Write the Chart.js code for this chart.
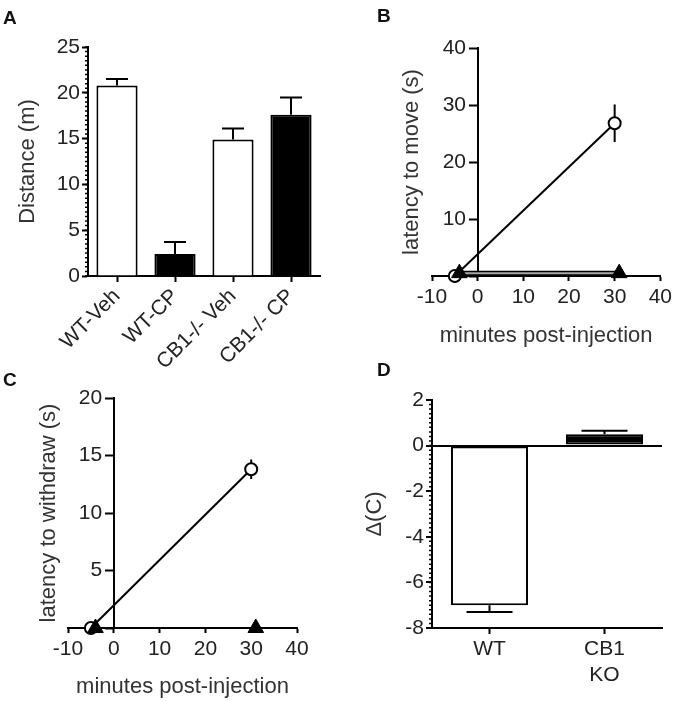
<!DOCTYPE html>
<html><head><meta charset="utf-8">
<script src="https://cdn.jsdelivr.net/npm/chart.js@4.4.1/dist/chart.umd.min.js"></script>
<style>
html,body{margin:0;padding:0;background:#fff;}
#wrap{position:relative;width:676px;height:701px;overflow:hidden;font-family:'Liberation Sans',Arial,sans-serif;}
canvas{position:absolute;}
.lbl{position:absolute;font-weight:bold;font-size:19px;line-height:19px;color:#111;}
</style></head><body>
<div id="wrap">
<canvas id="cA" width="338" height="380" style="left:0;top:0"></canvas>
<canvas id="cB" width="338" height="350" style="left:338px;top:0"></canvas>
<canvas id="cC" width="338" height="361" style="left:0;top:340px"></canvas>
<canvas id="cD" width="338" height="361" style="left:338px;top:340px"></canvas>
<div class="lbl" style="left:3px;top:8px">A</div>
<div class="lbl" style="left:377px;top:6px">B</div>
<div class="lbl" style="left:3px;top:370px">C</div>
<div class="lbl" style="left:377px;top:360px">D</div>
</div>
<script>
// ---------- data ----------
const catsA = ['WT-Veh', 'WT-CP', 'CB1-/- Veh', 'CB1-/- CP'];
const distA = [20.8, 2.4, 14.9, 17.6];
const distErrA = [0.7, 1.3, 1.2, 1.9];

const timeWT = [-5, 30];
const timeKO = [-4, 31];
const moveWT = [0, 26.8];
const moveErrWT = [0, 3.3];
const moveKO = [0.5, 0.5];
const withdrawWT = [0, 13.8];
const withdrawErrWT = [0, 0.85];
const withdrawKO = [0, 0];

const catsD = ['WT', ['CB1', 'KO']];
const deltaD = [-7.0, 0.5];
const deltaErrD = [0.3, 0.15];

const ticksA = {min: 0, max: 25, step: 5};
const ticksB = {min: 0, max: 40, step: 10};
const ticksC = {min: 0, max: 20, step: 5};
const ticksD = {min: -8, max: 2, step: 2};
const ticksTime = {min: -10, max: 40, step: 10};

// ---------- helpers ----------
const FAM = "'Liberation Sans', Arial, sans-serif";
Chart.defaults.font.family = FAM;
const tickFont = {family: FAM, size: 21};
const titleFont = {family: FAM, size: 22};
const TICK = '#222';
const TITLE = '#333';
const pts = (xs, ys) => xs.map((x, i) => ({x: x, y: ys[i]}));

function drawErr(chart, opts) {
  const ctx = chart.ctx, ys = chart.scales.y;
  chart.data.datasets.forEach((ds, di) => {
    if (!ds.errors) return;
    const meta = chart.getDatasetMeta(di);
    meta.data.forEach((el, i) => {
      const e = ds.errors[i];
      if (!e) return;
      const d = ds.data[i];
      const v = (typeof d === 'object') ? d.y : d;
      const x = el.x;
      ctx.save();
      ctx.strokeStyle = '#000';
      ctx.lineWidth = 2;
      ctx.beginPath();
      if (opts.oneSided) {
        const dir = v >= 0 ? 1 : -1;
        const y0 = ys.getPixelForValue(v), y1 = ys.getPixelForValue(v + dir * e);
        ctx.moveTo(x, y0); ctx.lineTo(x, y1);
        ctx.moveTo(x - opts.cap / 2, y1); ctx.lineTo(x + opts.cap / 2, y1);
      } else {
        ctx.moveTo(x, ys.getPixelForValue(v - e));
        ctx.lineTo(x, ys.getPixelForValue(v + e));
      }
      ctx.stroke();
      ctx.restore();
    });
  });
}
const errorBars = {
  id: 'errorBars',
  beforeDatasetsDraw(chart, args, opts) { if (opts.before) drawErr(chart, opts); },
  afterDatasetsDraw(chart, args, opts) { if (!opts.before) drawErr(chart, opts); }
};
const minorTicks = {
  id: 'minorTicks',
  afterDraw(chart, args, opts) {
    const s = chart.scales.y, ctx = chart.ctx;
    const x = chart.chartArea.left;
    const n = Math.round((s.max - s.min) / opts.step);
    ctx.save();
    ctx.strokeStyle = '#000';
    ctx.lineWidth = 1.5;
    ctx.beginPath();
    for (let k = 0; k <= n; k++) {
      const p = s.getPixelForValue(s.min + k * opts.step);
      ctx.moveTo(x - opts.len, p); ctx.lineTo(x, p);
    }
    ctx.stroke();
    ctx.restore();
  }
};
const base = {responsive: false, animation: false, events: []};
const noLegend = {legend: {display: false}, tooltip: {enabled: false}};
const tickGrid = (len) => ({display: true, drawOnChartArea: false, offset: false, tickLength: len, tickWidth: 2, tickColor: '#000'});
const border = {display: true, color: '#000', width: 2};

// ---------- A ----------
new Chart(document.getElementById('cA'), {
  type: 'bar',
  data: {labels: catsA, datasets: [{
    data: distA, errors: distErrA,
    backgroundColor: ['#ffffff', '#000000', '#ffffff', '#000000'],
    borderColor: '#000', borderWidth: 2, barPercentage: 0.71, categoryPercentage: 1
  }]},
  options: Object.assign({}, base, {
    layout: {padding: {left: 0, right: 18, top: 47, bottom: 0}},
    plugins: Object.assign({}, noLegend, {errorBars: {cap: 22, oneSided: true}, minorTicks: {step: 0.5, len: 3}}),
    scales: {
      x: {offset: true, grid: tickGrid(6), border: border,
          ticks: {autoSkip: false, minRotation: 45, maxRotation: 45, font: tickFont, color: TICK, padding: 2},
          afterFit: s => { s.height = 104; }},
      y: {min: ticksA.min, max: ticksA.max, grid: tickGrid(6), border: border,
          ticks: {stepSize: ticksA.step, font: tickFont, color: TICK, padding: 2},
          title: {display: true, text: 'Distance (m)', font: titleFont, color: TITLE, padding: {top: 15, bottom: 0}},
          afterFit: s => { s.width = 88; }}
    }
  }),
  plugins: [errorBars, minorTicks]
});

// ---------- B / C (time courses) ----------
function timeChart(id, yWT, errWT, yKO, yt, yTitle, pad, xH, ytW, titlePadTop, koBand) {
  const ds = [];
  if (koBand) {
    ds.push({data: pts(timeKO, yKO), showLine: true, borderColor: '#000', borderWidth: 5, pointRadius: 0, order: 4, clip: false});
    ds.push({data: pts(timeKO, yKO), showLine: true, borderColor: '#a8a8a8', borderWidth: 2, pointRadius: 0, order: 3, clip: false});
  } else {
    ds.push({data: pts(timeKO, yKO), showLine: true, borderColor: '#000', borderWidth: 2, pointRadius: 0, order: 4, clip: false});
  }
  ds.push({data: pts(timeWT, yWT), errors: errWT, showLine: true, borderColor: '#000', borderWidth: 2,
           pointStyle: 'circle', pointRadius: 6, pointBackgroundColor: '#fff', pointBorderColor: '#000', pointBorderWidth: 2, order: 2, clip: false});
  ds.push({data: pts(timeKO, yKO), showLine: false, pointStyle: 'triangle', pointRadius: 9,
           pointBackgroundColor: '#000', pointBorderColor: '#000', pointBorderWidth: 1, order: 1, clip: false});
  new Chart(document.getElementById(id), {
    type: 'scatter',
    data: {datasets: ds},
    options: Object.assign({}, base, {
      layout: {padding: pad},
      plugins: Object.assign({}, noLegend, {errorBars: {before: true}}),
      scales: {
        x: {type: 'linear', position: 'bottom', min: ticksTime.min, max: ticksTime.max, grid: tickGrid(5), border: border,
            ticks: {stepSize: ticksTime.step, font: tickFont, color: TICK, padding: 4},
            title: {display: true, text: 'minutes post-injection', font: titleFont, color: TITLE, padding: {top: 0, bottom: 1}},
            afterFit: s => { s.height = xH; }},
        y: {type: 'linear', position: {x: 0}, min: yt.min, max: yt.max, grid: tickGrid(8), border: border,
            ticks: {stepSize: yt.step, font: tickFont, color: TICK, callback: v => (v === 0 ? '' : v + '  ')},
            afterFit: s => { s.width = 0; }},
        yt: {type: 'linear', position: 'left', min: yt.min, max: yt.max,
             ticks: {display: false}, grid: {display: false}, border: {display: false},
             title: {display: true, text: yTitle, font: titleFont, color: TITLE, padding: {top: titlePadTop, bottom: 0}},
             afterFit: s => { s.width = ytW; }}
      }
    }),
    plugins: [errorBars]
  });
}
timeChart('cB', moveWT, moveErrWT, moveKO, ticksB, 'latency to move (s)', {left: 0, right: 14, top: 48, bottom: 0}, 74, 94, 61, true);
timeChart('cC', withdrawWT, withdrawErrWT, withdrawKO, ticksC, 'latency to withdraw (s)', {left: 0, right: 41, top: 58, bottom: 0}, 73, 68, 36, false);

// ---------- D ----------
new Chart(document.getElementById('cD'), {
  type: 'bar',
  data: {labels: catsD, datasets: [{
    data: deltaD, errors: deltaErrD,
    backgroundColor: ['#ffffff', '#000000'],
    borderColor: '#000', borderWidth: 2, borderSkipped: false, barPercentage: 0.67, categoryPercentage: 1
  }]},
  options: Object.assign({}, base, {
    layout: {padding: {left: 0, right: 14, top: 60, bottom: 0}},
    plugins: Object.assign({}, noLegend, {errorBars: {cap: 46, oneSided: true}, minorTicks: {step: 0.2, len: 3}}),
    scales: {
      x: {offset: true, grid: tickGrid(6), border: border,
          ticks: {maxRotation: 0, font: tickFont, color: TICK, padding: 3},
          afterFit: s => { s.height = 73; }},
      y: {min: ticksD.min, max: ticksD.max, border: border,
          grid: {display: true, drawOnChartArea: true, tickLength: 6, tickWidth: 2, tickColor: '#000', lineWidth: 2,
                 color: c => (c.tick && c.tick.value === 0 ? '#000' : 'rgba(0,0,0,0)')},
          ticks: {stepSize: ticksD.step, font: tickFont, color: TICK, padding: 2},
          title: {display: true, text: 'Δ(C)', font: titleFont, color: TITLE, padding: {top: 24, bottom: 0}},
          afterFit: s => { s.width = 94; }}
    }
  }),
  plugins: [errorBars, minorTicks]
});
</script>
</body></html>
